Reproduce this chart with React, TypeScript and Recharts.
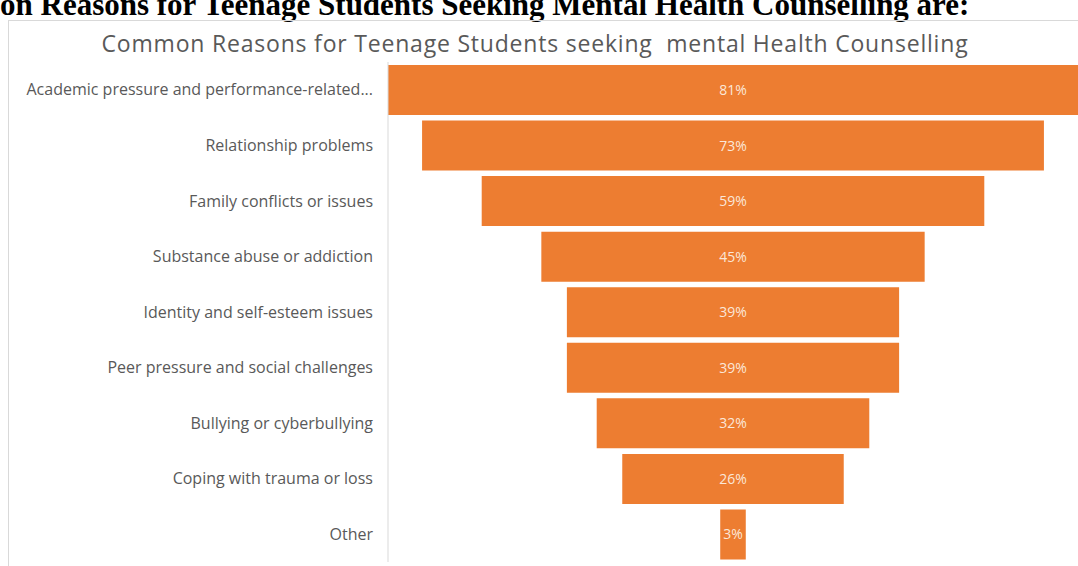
import { Bar, BarChart, LabelList, XAxis, YAxis } from "recharts";

const reasons = [
  "Academic pressure and performance-related...",
  "Relationship problems",
  "Family conflicts or issues",
  "Substance abuse or addiction",
  "Identity and self-esteem issues",
  "Peer pressure and social challenges",
  "Bullying or cyberbullying",
  "Coping with trauma or loss",
  "Other",
];
const shares = [81, 73, 59, 45, 39, 39, 32, 26, 3];

const maxShare = Math.max(...shares);
// funnel: an invisible spacer pushes every bar to the centre
const rows = reasons.map((name, i) => ({
  name,
  value: shares[i],
  spacer: (maxShare - shares[i]) / 2,
}));

const App = () => {
  return (
    <div
      style={{
        position: "absolute",
        left: 0,
        top: 0,
        width: 1078,
        height: 566,
        overflow: "hidden",
        background: "#fff",
      }}
    >
      <div
        style={{
          position: "absolute",
          left: 0,
          top: -13,
          whiteSpace: "nowrap",
          fontFamily: "'Liberation Serif', 'Times New Roman', serif",
          fontWeight: "bold",
          fontSize: 31,
          color: "#000",
        }}
      >
        on Reasons for Teenage Students Seeking Mental Health Counselling are:
      </div>
      <div
        style={{
          position: "absolute",
          left: 8,
          top: 20,
          width: 1100,
          height: 600,
          border: "1px solid #d9d9d9",
        }}
      />
      <div
        style={{
          position: "absolute",
          left: 90,
          top: 27,
          width: 890,
          textAlign: "center",
          whiteSpace: "pre",
          fontFamily: "'Open Sans', sans-serif",
          fontSize: 23,
          letterSpacing: 0.8,
          color: "#595959",
        }}
      >
        Common Reasons for Teenage Students seeking  mental Health Counselling
      </div>
      <div style={{ position: "absolute", left: 0, top: 0 }}>
        <BarChart
          width={1078}
          height={566}
          layout="vertical"
          data={rows}
          margin={{ top: 62, right: 0, bottom: 4, left: 0 }}
        >
          <XAxis type="number" hide domain={[0, maxShare]} />
          <YAxis
            type="category"
            dataKey="name"
            width={388}
            interval={0}
            tickLine={false}
            tickSize={0}
            tickMargin={15}
            axisLine={{ stroke: "#d9d9d9" }}
            tick={{ fontSize: 16, fill: "#595959", fontFamily: "'Open Sans', sans-serif" }}
          />
          <Bar dataKey="spacer" stackId="f" fill="transparent" barSize={50} isAnimationActive={false} />
          <Bar dataKey="value" stackId="f" fill="#ED7D31" barSize={50} isAnimationActive={false}>
            <LabelList
              dataKey="value"
              position="center"
              formatter={(v: number) => `${v}%`}
              fill="#fbe7d8"
              fontSize={14}
              fontFamily="'Open Sans', sans-serif"
            />
          </Bar>
        </BarChart>
      </div>
    </div>
  );
};

export default App;
